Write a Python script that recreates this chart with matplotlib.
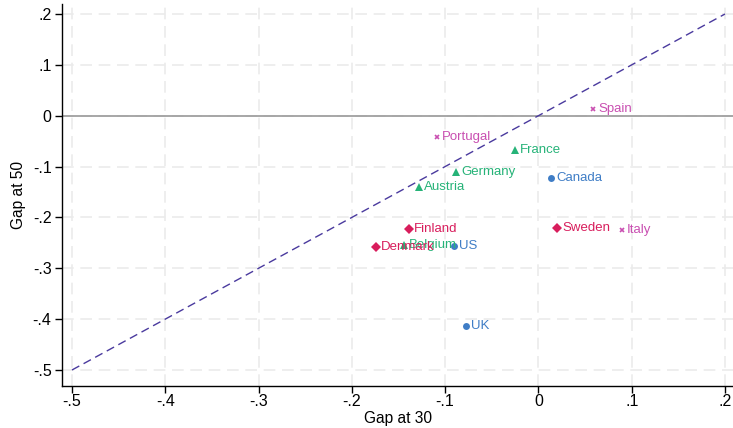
import matplotlib
matplotlib.use("Agg")
import matplotlib.pyplot as plt
import numpy as np

plt.rcParams['font.family'] = ['Liberation Sans', 'DejaVu Sans']

countries = ["Spain", "Portugal", "Italy",
             "France", "Germany", "Austria", "Belgium",
             "Canada", "US", "UK",
             "Finland", "Denmark", "Sweden"]
gap30 = [0.059, -0.109, 0.090,
         -0.025, -0.088, -0.128, -0.144,
         0.014, -0.090, -0.078,
         -0.139, -0.174, 0.020]
gap50 = [0.013, -0.042, -0.225,
         -0.068, -0.111, -0.140, -0.254,
         -0.122, -0.256, -0.413,
         -0.223, -0.258, -0.221]
groups = ["south", "south", "south",
          "cont", "cont", "cont", "cont",
          "lib", "lib", "lib",
          "nord", "nord", "nord"]

styles = {
    "south": dict(marker="x", color="#c94fb1", ms=3.5, mew=1.2),
    "cont": dict(marker="^", color="#26b378", ms=6, mew=0),
    "lib": dict(marker="o", color="#3f7dc6", ms=5, mew=0),
    "nord": dict(marker="D", color="#d81d5c", ms=5, mew=0),
}

xticks = [-0.5, -0.4, -0.3, -0.2, -0.1, 0, 0.1, 0.2]
xticklabels = ["-.5", "-.4", "-.3", "-.2", "-.1", "0", ".1", ".2"]
yticks = [-0.5, -0.4, -0.3, -0.2, -0.1, 0, 0.1, 0.2]
yticklabels = ["-.5", "-.4", "-.3", "-.2", "-.1", "0", ".1", ".2"]

fig = plt.figure(figsize=(7.33, 4.28), dpi=100)
ax = fig.add_axes([62/733, 1-386/428, 1-62/733, 382/428])

ax.set_xlim(-0.5107, 0.2086)
ax.set_ylim(-0.5315, 0.2197)

for t in xticks:
    ax.axvline(t, color="#ebebeb", lw=1.2, ls=(0, (7, 4)), zorder=0)
for t in yticks:
    ax.axhline(t, color="#ebebeb", lw=1.2, ls=(0, (7, 4)), zorder=0)

ax.axhline(0, color="#a0a0a0", lw=1.3, zorder=1)

line = [-0.5, 0.2]
ax.plot(line, line, color="#4a3a9e", lw=1.0, ls=(0, (6, 3.5)), zorder=2)

for c, x, y, g in zip(countries, gap30, gap50, groups):
    st = styles[g]
    ax.plot([x], [y], ls="none", marker=st["marker"], color=st["color"],
            ms=st["ms"], mew=st["mew"], zorder=3)
    ax.annotate(c, (x, y), xytext=(3.5, 0), textcoords="offset points",
                ha="left", va="center", color=st["color"], fontsize=9.5, zorder=4)

ax.set_xticks(xticks)
ax.set_xticklabels(xticklabels)
ax.set_yticks(yticks)
ax.set_yticklabels(yticklabels)
ax.tick_params(axis="x", direction="out", length=5, width=1, labelsize=11.5, pad=1)
ax.tick_params(axis="y", direction="out", length=5, width=1, labelsize=11.5, pad=2.5)

for s in ["top", "right"]:
    ax.spines[s].set_visible(False)
for s in ["left", "bottom"]:
    ax.spines[s].set_linewidth(1)

ax.set_xlabel("Gap at 30", fontsize=11.2, va="center")
ax.xaxis.set_label_coords(0.5, (386 - 418) / 382)
ax.set_ylabel("Gap at 50", fontsize=11.2, labelpad=5)

fig.savefig("out.png", dpi=100)
